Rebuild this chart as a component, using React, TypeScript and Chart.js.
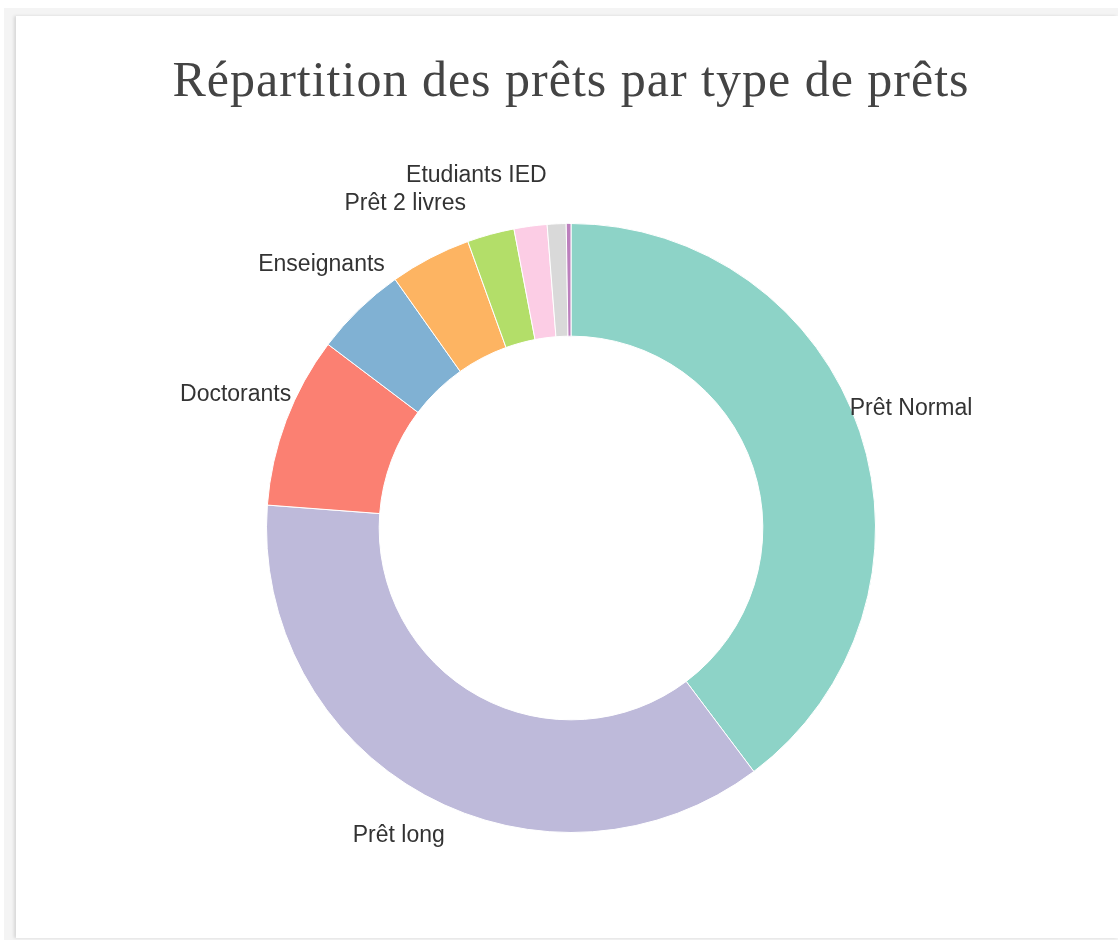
import React, { useEffect, useRef } from "react";
import { Chart, registerables } from "chart.js";

Chart.register(...registerables);

const TITLE = "Répartition des prêts par type de prêts";
const categories = [
  "Prêt Normal",
  "Prêt long",
  "Doctorants",
  "Enseignants",
  "Prêt 2 livres",
  "Etudiants IED",
  "Lecteurs extérieurs",
  "Personnel",
  "Autres",
];
const shares = [39.75, 36.45, 9.1, 4.9, 4.3, 2.5, 1.75, 1.0, 0.25];
const colors = [
  "#8dd3c7",
  "#bebada",
  "#fb8072",
  "#80b1d3",
  "#fdb462",
  "#b3de69",
  "#fccde5",
  "#d9d9d9",
  "#bc80bd",
];

const W = 1118;
const H = 940;

const outsideLabels = {
  id: "outsideLabels",
  afterDatasetsDraw(chart: any) {
    const ctx = chart.ctx;
    const meta = chart.getDatasetMeta(0);
    ctx.save();
    ctx.beginPath();
    ctx.rect(0, 0, 972, H);
    ctx.clip();
    ctx.font = "23px 'Liberation Sans', Arial, sans-serif";
    ctx.fillStyle = "#333";
    ctx.textAlign = "center";
    ctx.textBaseline = "alphabetic";
    meta.data.forEach((arc: any, i: number) => {
      const { startAngle, endAngle, outerRadius, x, y } = arc.getProps(
        ["startAngle", "endAngle", "outerRadius", "x", "y"],
        true
      );
      if (endAngle - startAngle < 0.14) return;
      const mid = (startAngle + endAngle) / 2;
      const r = outerRadius + 54;
      ctx.fillText(
        chart.data.labels[i],
        x + r * Math.cos(mid),
        y + r * Math.sin(mid)
      );
    });
    ctx.restore();
  },
};

export default function App() {
  const ref = useRef<HTMLCanvasElement>(null);
  useEffect(() => {
    if (!ref.current) return;
    const chart = new Chart(ref.current, {
      type: "doughnut",
      data: {
        labels: categories,
        datasets: [
          {
            data: shares,
            backgroundColor: colors,
            borderColor: "#ffffff",
            borderWidth: 1,
          },
        ],
      },
      options: {
        responsive: false,
        animation: false,
        cutout: "63%",
        layout: { padding: { left: 266, right: 242, top: 223, bottom: 107 } },
        plugins: {
          legend: { display: false },
          tooltip: { enabled: false },
          title: { display: false },
        },
      },
      plugins: [outsideLabels],
    });
    return () => chart.destroy();
  }, []);

  return (
    <div style={{ position: "fixed", left: 0, top: 0, width: W, height: H, background: "#fff" }}>
      <div style={{ position: "absolute", left: 4, top: 8, width: W - 4, height: H - 8, background: "#f4f4f4" }} />
      <div
        style={{
          position: "absolute",
          left: 16,
          top: 16,
          width: W - 16,
          height: 922,
          background: "#fff",
          boxShadow: "-2px 0 3px rgba(0,0,0,0.12)",
        }}
      />
      <div
        style={{
          position: "absolute",
          left: 0,
          top: 54,
          width: 1142,
          textAlign: "center",
          fontFamily: "'Liberation Serif', 'Times New Roman', serif",
          fontSize: 50,
          lineHeight: "50px",
          letterSpacing: "1px",
          color: "#444",
          whiteSpace: "nowrap",
        }}
      >
        {TITLE}
      </div>
      <canvas
        ref={ref}
        width={W}
        height={H}
        style={{ position: "absolute", left: 0, top: 0, width: W, height: H }}
      />
    </div>
  );
}
